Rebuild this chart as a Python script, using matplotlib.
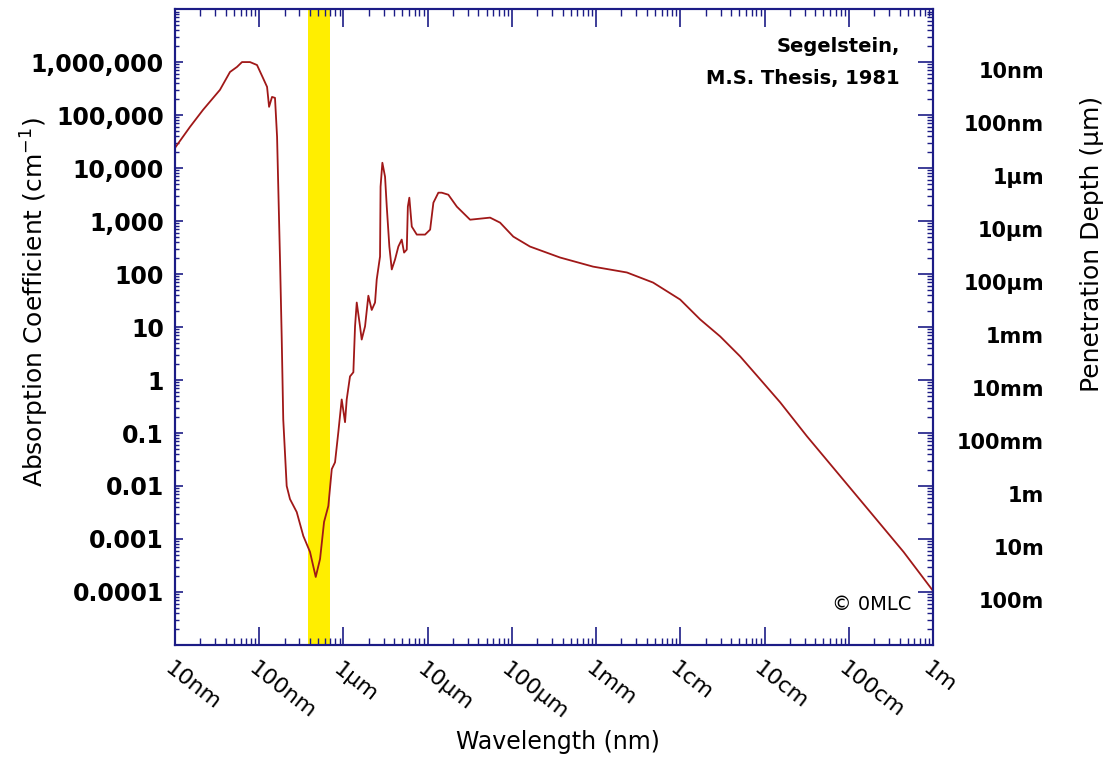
import matplotlib
matplotlib.use('Agg')
import matplotlib.pyplot as plt
import matplotlib.transforms as mtransforms
from matplotlib.ticker import LogLocator, NullFormatter

# water absorption spectrum
wavelength_nm = [10, 15.1, 21.5, 34.2, 45, 54.5, 62.5, 77.8, 94.2, 111, 124, 131, 142, 154,
                 163, 177, 185, 193, 212, 232, 279, 334, 401, 469, 528, 589, 662, 727, 795,
                 870, 954, 1045, 1094, 1197, 1312, 1374, 1439, 1574, 1648, 1806, 1977, 2168,
                 2373, 2485, 2720, 2760, 2900, 3120, 3270, 3510, 3750, 4100, 4490, 4920, 5250,
                 5650, 5820, 6060, 6480, 7430, 9320, 10700, 11700, 13400, 14700, 17600, 22200,
                 31900, 55100, 72400, 1.04e5, 1.64e5, 3.73e5, 9.2e5, 2.32e6, 4.75e6, 9.95e6,
                 1.72e7, 2.97e7, 5.13e7, 8.87e7, 1.53e8, 3.18e8, 7.22e8, 1.8e9, 4.47e9, 1e10]
absorption = [24000, 60000, 125000, 299000, 650000, 810000, 1.0e6, 1.0e6, 880000, 500000,
              340000, 143000, 220000, 211000, 38800, 165, 6.4, 0.18, 0.0100, 0.00566, 0.00322,
              0.00114, 0.00057, 0.000192, 0.00042, 0.0021, 0.0042, 0.0208, 0.028, 0.104, 0.43,
              0.16, 0.43, 1.17, 1.4, 10.3, 29, 10.3, 5.8, 10.3, 39, 21, 29, 79, 214, 4450, 12600,
              6850, 1870, 330, 122, 188, 330, 447, 254, 289, 1870, 2760, 786, 555, 555, 689, 2220,
              3430, 3430, 3140, 1870, 1060, 1160, 933, 508, 330, 205, 138, 107, 69, 33, 13.9,
              6.65, 2.79, 1.03, 0.38, 0.087, 0.0183, 0.00322, 0.00057, 0.000105]

visible_band = (380, 700)

x_ticks = [1e1, 1e2, 1e3, 1e4, 1e5, 1e6, 1e7, 1e8, 1e9, 1e10]
x_labels = ['10nm', '100nm', '1µm', '10µm', '100µm', '1mm', '1cm', '10cm', '100cm', '1m']
y_ticks = [1e6, 1e5, 1e4, 1e3, 1e2, 1e1, 1, 0.1, 0.01, 0.001, 0.0001]
y_labels = ['1,000,000', '100,000', '10,000', '1,000', '100', '10', '1', '0.1', '0.01',
            '0.001', '0.0001']
depth_labels = ['10nm', '100nm', '1µm', '10µm', '100µm', '1mm', '10mm', '100mm', '1m',
                '10m', '100m']

navy = '#1c1c86'

fig = plt.figure(figsize=(11.06, 7.57), dpi=100)
ax = fig.add_axes([0.1582, 0.148, 0.6854, 0.840])

ax.axvspan(*visible_band, color='#ffee00', lw=0, zorder=1)
ax.plot(wavelength_nm, absorption, color='#a01818', lw=1.3, zorder=3)

ax.set_xscale('log')
ax.set_yscale('log')
ax.set_xlim(1e1, 1e10)
ax.set_ylim(1e-5, 1e7)

ax.set_xticks(x_ticks, x_labels)
ax.set_yticks(y_ticks, y_labels)
ax.xaxis.set_minor_locator(LogLocator(base=10, subs=range(2, 10), numticks=30))
ax.yaxis.set_minor_locator(LogLocator(base=10, subs=range(2, 10), numticks=30))
ax.xaxis.set_minor_formatter(NullFormatter())
ax.yaxis.set_minor_formatter(NullFormatter())

for s in ax.spines.values():
    s.set_color(navy)
    s.set_linewidth(1.5)

ax.tick_params(axis='x', which='major', direction='in', length=13, width=1.2, color=navy,
               top=True, labelsize=16, pad=10)
ax.tick_params(axis='x', which='minor', direction='in', length=5, width=1, color=navy, top=True)
ax.tick_params(axis='y', which='major', direction='in', length=6, width=1.2, color=navy,
               right=False, labelsize=17, pad=8)
ax.tick_params(axis='y', which='minor', direction='in', length=3, width=1, color=navy, right=False)

# slanted wavelength labels, nudged a little left of their ticks
shift = mtransforms.ScaledTranslation(-14 / 100, 0, fig.dpi_scale_trans)
for lab in ax.get_xticklabels():
    lab.set_rotation(-38)
    lab.set_ha('left')
    lab.set_va('top')
    lab.set_transform(lab.get_transform() + shift)
for lab in ax.get_yticklabels():
    lab.set_fontweight('bold')

# right axis: penetration depth = 1 / absorption
ax2 = ax.twinx()
ax2.set_yscale('log')
ax2.set_ylim(1e-5, 1e7)
ax2.set_yticks(y_ticks, depth_labels)
ax2.yaxis.set_minor_locator(LogLocator(base=10, subs=range(2, 10), numticks=30))
ax2.yaxis.set_minor_formatter(NullFormatter())
ax2.tick_params(axis='y', which='major', direction='in', length=11, width=1.2, color=navy,
                labelsize=15, pad=80)
ax2.tick_params(axis='y', which='minor', direction='in', length=4, width=1, color=navy)
for lab in ax2.get_yticklabels():
    lab.set_ha('right')
    lab.set_va('top')
    lab.set_fontweight('bold')
for s in ax2.spines.values():
    s.set_color(navy)
    s.set_linewidth(1.5)

ax.set_xlabel('Wavelength (nm)', fontsize=17)
ax.xaxis.set_label_coords(0.505, -0.134)
ax.set_ylabel('Absorption Coefficient (cm$^{-1}$)', fontsize=18)
ax.yaxis.set_label_coords(-0.163, 0.54)
ax2.set_ylabel('Penetration Depth (µm)', fontsize=18)
ax2.yaxis.set_label_coords(1.194, 0.63)

ax.text(0.956, 0.956, 'Segelstein,', transform=ax.transAxes, ha='right', va='top',
        fontsize=14, fontweight='bold')
ax.text(0.956, 0.905, 'M.S. Thesis, 1981', transform=ax.transAxes, ha='right', va='top',
        fontsize=14, fontweight='bold')
ax.text(0.972, 0.064, '© 0MLC', transform=ax.transAxes, ha='right', va='center', fontsize=14)

fig.savefig('out.png', dpi=100)
